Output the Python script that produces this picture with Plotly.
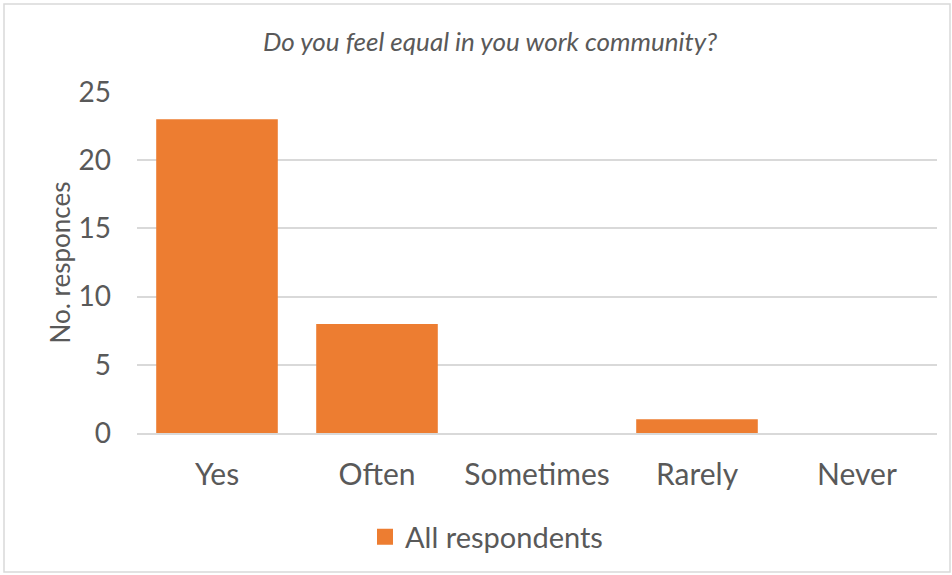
import plotly.graph_objects as go

categories = ["Yes", "Often", "Sometimes", "Rarely", "Never"]
values = [23, 8, 0, 1, 0]
series_name = "All respondents"
y_ticks = [0, 5, 10, 15, 20, 25]

FONT = "Lato, 'Open Sans', sans-serif"
ORANGE = "#ED7D31"
GREY = "#595959"

fig = go.Figure()
fig.add_trace(go.Bar(
    x=categories, y=values, name=series_name,
    marker=dict(color=ORANGE, line=dict(width=0)),
    width=0.76, showlegend=False,
))
# legend entry (square swatch like the reference)
fig.add_trace(go.Scatter(
    x=[None], y=[None], mode="markers", name=series_name,
    marker=dict(symbol="square", size=18, color=ORANGE), showlegend=True,
))

fig.update_layout(
    width=952, height=575,
    paper_bgcolor="white", plot_bgcolor="white",
    margin=dict(l=137, r=15, t=92, b=142),
    font=dict(family=FONT, color=GREY),
    title=dict(text="<i>Do you feel equal in you work community?</i>",
               x=490/952, xanchor="center", y=1-42/575, yanchor="middle",
               font=dict(size=26, color=GREY, family=FONT)),
    showlegend=True,
    legend=dict(orientation="h", x=(365-137)/800, xref="paper", xanchor="left",
                y=(433-537)/341, yanchor="middle", font=dict(size=29, color=GREY),
                itemwidth=30),
    bargap=0.24,
)
fig.update_xaxes(showline=True, linecolor="#D9D9D9", linewidth=1.5,
                 ticks="", tickfont=dict(size=30, color=GREY), ticklabelstandoff=14)
fig.update_yaxes(range=[0, 25], tickvals=y_ticks, showgrid=True,
                 gridcolor="#D9D9D9", gridwidth=1.5, zeroline=False,
                 tickfont=dict(size=28, color=GREY), ticklabelstandoff=25,
                 title=dict(text="No. responces", font=dict(size=26, color=GREY), standoff=0))

fig.add_shape(type="rect", xref="paper", yref="paper",
              x0=-133/800, x1=(950-137)/800, y0=(433-572)/341, y1=(433-4)/341,
              line=dict(color="#D9D9D9", width=1.5), fillcolor="rgba(0,0,0,0)", layer="below")

fig.write_html("out.html")
